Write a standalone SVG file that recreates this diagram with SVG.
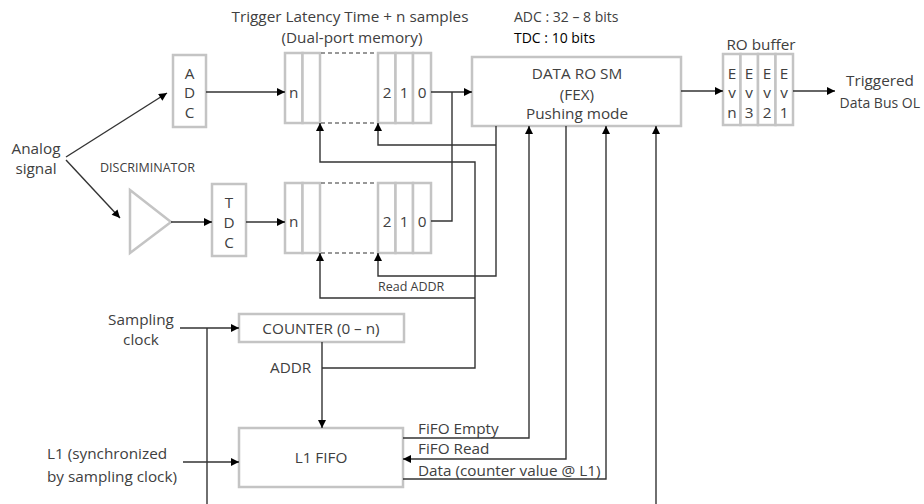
<svg xmlns="http://www.w3.org/2000/svg" width="924" height="504" viewBox="0 0 924 504">
<defs>
<marker id="ah" viewBox="0 0 10 10" refX="10" refY="5" markerWidth="9" markerHeight="8" markerUnits="userSpaceOnUse" orient="auto"><path d="M0,0 L10,5 L0,10 z" fill="#000"/></marker>
</defs>
<style>
text{font-family:"Open Sans","Liberation Sans",Arial,sans-serif;font-size:15.3px;fill:#404040}
.c{text-anchor:middle}
.box{fill:#fff;stroke:#c4c4c4;stroke-width:2.5}
.ln{fill:none;stroke:#333;stroke-width:1.4}
.dash{stroke:#333;stroke-width:1.2;stroke-dasharray:4,3}
.sm{font-size:12.5px}
.hd{font-size:14px}
</style>
<rect width="924" height="504" fill="#fff"/>

<g id="labels">
<text class="c" x="36" y="154">Analog</text>
<text class="c" x="36" y="174">signal</text>
<text class="sm" x="100" y="172">DISCRIMINATOR</text>
<text class="c" x="350" y="22">Trigger Latency Time + n samples</text>
<text class="c" x="352" y="43">(Dual-port memory)</text>
<text class="hd" x="514" y="22">ADC : 32 – 8 bits</text>
<text class="hd" x="514" y="43" style="fill:#000">TDC : 10 bits</text>
<text class="c" x="761" y="50">RO buffer</text>
<text class="c" x="880" y="86">Triggered</text>
<text x="920" y="108" style="text-anchor:end;font-size:14px">Data Bus OL</text>
<text class="c" x="141" y="325">Sampling</text>
<text class="c" x="141" y="345">clock</text>
<text x="47" y="459">L1 (synchronized</text>
<text x="47" y="482">by sampling clock)</text>
<text x="270" y="373">ADDR</text>
<text x="378" y="291" style="font-size:12.5px">Read ADDR</text>
<text x="418" y="434">FiFO Empty</text>
<text x="418" y="454">FiFO Read</text>
<text x="418" y="476">Data (counter value @ L1)</text>
</g>

<g id="adc">
<rect class="box" x="173" y="55" width="33" height="72"/>
<text class="c" x="189.5" y="79">A</text>
<text class="c" x="189.5" y="98">D</text>
<text class="c" x="189.5" y="118">C</text>
</g>

<g id="discriminator">
<polygon points="130,190 171,222 130,253" fill="#fff" stroke="#c4c4c4" stroke-width="2.5"/>
</g>

<g id="tdc">
<rect class="box" x="212" y="184" width="34" height="72"/>
<text class="c" x="229" y="208">T</text>
<text class="c" x="229" y="228">D</text>
<text class="c" x="229" y="248">C</text>
</g>

<g id="mem_adc">
<rect class="box" x="285" y="53" width="17.5" height="70"/>
<rect class="box" x="302.5" y="53" width="17.5" height="70"/>
<rect class="box" x="378" y="53" width="17.5" height="70"/>
<rect class="box" x="395.5" y="53" width="17.5" height="70"/>
<rect class="box" x="413" y="53" width="18" height="70"/>
<line class="dash" x1="321" y1="53" x2="377" y2="53"/>
<line class="dash" x1="321" y1="123" x2="377" y2="123"/>
<text x="289" y="98">n</text>
<text class="c" x="387" y="98">2</text>
<text class="c" x="404" y="98">1</text>
<text class="c" x="422" y="98">0</text>
</g>

<g id="mem_tdc">
<rect class="box" x="285" y="183" width="17.5" height="70"/>
<rect class="box" x="302.5" y="183" width="17.5" height="70"/>
<rect class="box" x="378" y="183" width="17.5" height="70"/>
<rect class="box" x="395.5" y="183" width="17.5" height="70"/>
<rect class="box" x="413" y="183" width="18" height="70"/>
<line class="dash" x1="321" y1="183" x2="377" y2="183"/>
<line class="dash" x1="321" y1="253" x2="377" y2="253"/>
<text x="289" y="227">n</text>
<text class="c" x="387" y="227">2</text>
<text class="c" x="404" y="227">1</text>
<text class="c" x="422" y="227">0</text>
</g>

<g id="data_ro_sm">
<rect class="box" x="472" y="57" width="209" height="69"/>
<text class="c" x="577" y="79">DATA RO SM</text>
<text class="c" x="577" y="100">(FEX)</text>
<text class="c" x="577" y="119">Pushing mode</text>
</g>

<g id="ro_buffer">
<rect class="box" x="723" y="54" width="17.5" height="71"/>
<rect class="box" x="740.5" y="54" width="17.5" height="71"/>
<rect class="box" x="758" y="54" width="17.5" height="71"/>
<rect class="box" x="775.5" y="54" width="17.5" height="71"/>
<text class="c" x="732" y="79">E</text><text class="c" x="732" y="98">v</text><text class="c" x="732" y="118">n</text>
<text class="c" x="749" y="79">E</text><text class="c" x="749" y="98">v</text><text class="c" x="749" y="118">3</text>
<text class="c" x="767" y="79">E</text><text class="c" x="767" y="98">v</text><text class="c" x="767" y="118">2</text>
<text class="c" x="784" y="79">E</text><text class="c" x="784" y="98">v</text><text class="c" x="784" y="118">1</text>
</g>

<g id="counter">
<rect class="box" x="239" y="314" width="165" height="28"/>
<text class="c" x="321" y="334">COUNTER (0 – n)</text>
</g>

<g id="l1_fifo">
<rect class="box" x="239" y="428" width="164" height="59"/>
<text class="c" x="321" y="463">L1 FIFO</text>
</g>

<g id="connectors">
<line class="ln" x1="66" y1="157" x2="167" y2="93" marker-end="url(#ah)"/>
<line class="ln" x1="66" y1="160" x2="120" y2="218" marker-end="url(#ah)"/>
<line class="ln" x1="206" y1="92" x2="285" y2="92" marker-end="url(#ah)"/>
<line class="ln" x1="171" y1="222" x2="212" y2="222" marker-end="url(#ah)"/>
<line class="ln" x1="246" y1="222" x2="285" y2="222" marker-end="url(#ah)"/>
<line class="ln" x1="431" y1="92" x2="472" y2="92" marker-end="url(#ah)"/>
<polyline class="ln" points="431,221 452,221 452,92"/>
<polyline class="ln" points="496,126 496,276 378,276 378,253" marker-end="url(#ah)"/>
<polyline class="ln" points="496,145 378,145 378,123" marker-end="url(#ah)"/>
<polyline class="ln" points="322,368 475,368 475,162 320,162 320,123" marker-end="url(#ah)"/>
<polyline class="ln" points="475,298 320,298 320,253" marker-end="url(#ah)"/>
<line class="ln" x1="322" y1="342" x2="322" y2="428" marker-end="url(#ah)"/>
<polyline class="ln" points="403,438 529,438 529,126" marker-end="url(#ah)"/>
<polyline class="ln" points="566,126 566,459 403,459" marker-end="url(#ah)"/>
<polyline class="ln" points="403,479 606,479 606,126" marker-end="url(#ah)"/>
<line class="ln" x1="656" y1="504" x2="656" y2="126" marker-end="url(#ah)"/>
<line class="ln" x1="681" y1="91" x2="723" y2="91" marker-end="url(#ah)"/>
<line class="ln" x1="793" y1="91" x2="835" y2="91" marker-end="url(#ah)"/>
<line class="ln" x1="180" y1="328" x2="239" y2="328" marker-end="url(#ah)"/>
<line class="ln" x1="207" y1="328" x2="207" y2="504"/>
<line class="ln" x1="183" y1="462" x2="239" y2="462" marker-end="url(#ah)"/>
</g>
</svg>
